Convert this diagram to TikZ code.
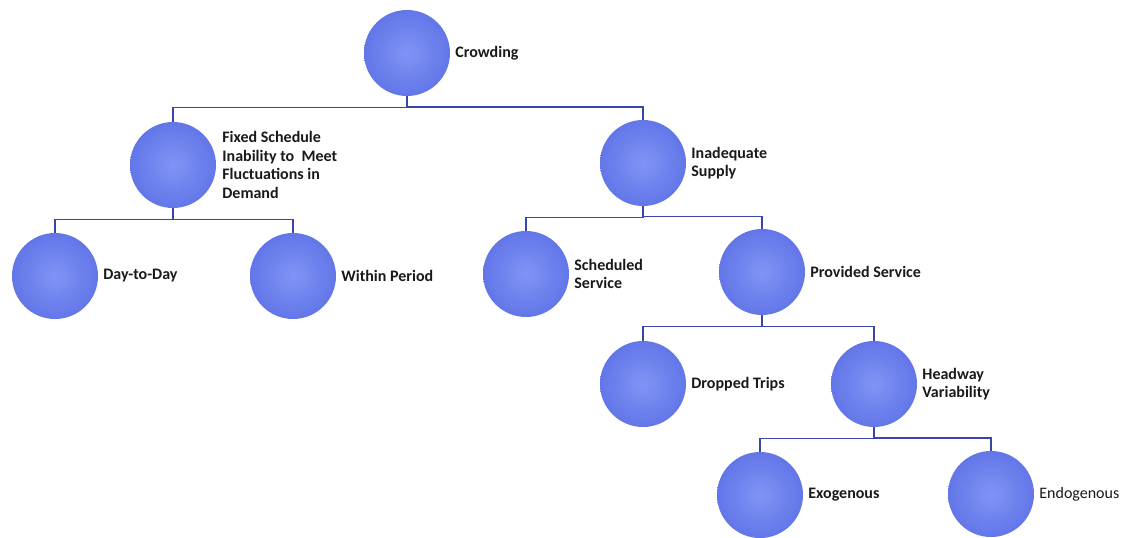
\documentclass[tikz,border=0pt]{standalone}
\usepackage{fontspec}
\setmainfont{Carlito}
\usetikzlibrary{calc}
\definecolor{ballin}{RGB}{128,148,246}
\definecolor{ballout}{RGB}{98,118,232}
\definecolor{linecol}{RGB}{55,70,170}
\definecolor{txtcol}{RGB}{25,25,25}
\tikzset{
  ball/.style={circle, minimum size=86pt, inner sep=0pt, inner color=ballin, outer color=ballout},
  lbl/.style={anchor=west, align=left, inner sep=0pt, text=txtcol, font=\bfseries\fontsize{16}{18.5}\selectfont},
  conn/.style={draw=linecol, line width=1.4pt}
}
\newcommand{\tree}[2]{\draw[conn] (#1.south) |- ($(#1.south)!0.45!(#2.north)$) -| (#2.north);}
\begin{document}
\begin{tikzpicture}[x=1pt,y=-1pt]
\useasboundingbox (0,0) rectangle (1136,538);
\node[ball] (crowd) at (407,53) {};
\node[ball] (fixed) at (173,165) {};
\node[ball] (inad) at (643,163) {};
\node[ball] (day) at (55,276) {};
\node[ball] (within) at (293,276) {};
\node[ball] (sched) at (526,274) {};
\node[ball] (prov) at (762,272) {};
\node[ball] (drop) at (643,384) {};
\node[ball] (head) at (874,384) {};
\node[ball] (exo) at (760,495) {};
\node[ball] (endo) at (991,494) {};

\tree{crowd}{fixed}
\tree{crowd}{inad}
\tree{fixed}{day}
\tree{fixed}{within}
\tree{inad}{sched}
\tree{inad}{prov}
\tree{prov}{drop}
\tree{prov}{head}
\tree{head}{exo}
\tree{head}{endo}

\node[lbl] (tcrowd) at ($(crowd.east)+(5,0)$) {Crowding};
\node[lbl] (tfixed) at ($(fixed.east)+(6,0)$) {Fixed Schedule\\Inability to~ Meet\\Fluctuations in\\Demand};
\node[lbl] (tinad) at ($(inad.east)+(5,0)$) {Inadequate\\Supply};
\node[lbl] (tday) at ($(day.east)+(5,0)$) {Day-to-Day};
\node[lbl] (twithin) at ($(within.east)+(5,0)$) {Within Period};
\node[lbl] (tsched) at ($(sched.east)+(5,0)$) {Scheduled\\Service};
\node[lbl] (tprov) at ($(prov.east)+(5,0)$) {Provided Service};
\node[lbl] (tdrop) at ($(drop.east)+(5,0)$) {Dropped Trips};
\node[lbl] (thead) at ($(head.east)+(5,0)$) {Headway\\Variability};
\node[lbl] (texo) at ($(exo.east)+(5,0)$) {Exogenous};
\node[lbl, font=\fontsize{16}{18.5}\selectfont] (tendo) at ($(endo.east)+(5,0)$) {Endogenous};
\end{tikzpicture}
\end{document}
